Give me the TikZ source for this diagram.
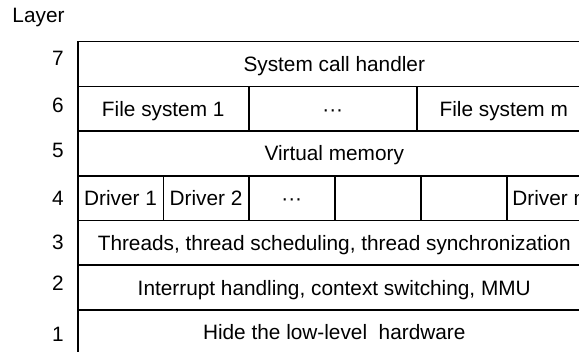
\documentclass[tikz,border=0pt]{standalone}
\usepackage{fontspec}
\setmainfont{Liberation Sans}
\tikzset{
	cell/.style={draw,line width=1.5pt,minimum height=44.7pt,inner sep=0pt,anchor=north west,
		text height=15pt,text depth=0pt,font=\fontsize{20.8}{24}\selectfont},
	lbl/.style={inner sep=0pt,text height=15pt,text depth=0pt,font=\fontsize{20.8}{24}\selectfont}
}
\begin{document}
\begin{tikzpicture}[x=1pt,y=-1pt]
			\clip (0,0) rectangle (579,352);
			\node[lbl] (layer) at (38.5,15.5) {Layer};
			\foreach \n/\y in {7/58.5,6/105,5/150,4/198.5,3/242,2/283.5,1/334.5}
				\node[lbl] (l\n) at (58,\y) {\n};
			\node[cell,minimum width=513pt] (sch) at (77,41) {System call handler};
			\node[cell,minimum width=171pt] (fs1) at (77,85.7) {File system 1};
			\node[cell,minimum width=168pt] (fsdots) at (248,85.7) {···};
			\node[cell,minimum width=174pt] (fsm) at (416,85.7) {File system m};
			\node[cell,minimum width=513pt] (vm) at (77,130.4) {Virtual memory};
			\node[cell,minimum width=85.5pt] (drv1) at (77,175.1) {Driver 1};
			\node[cell,minimum width=85.5pt] (drv2) at (162.5,175.1) {Driver 2};
			\node[cell,minimum width=86pt] (drvdots) at (248,175.1) {···};
			\node[cell,minimum width=86pt] (drva) at (334,175.1) {};
			\node[cell,minimum width=86pt] (drvb) at (420,175.1) {};
			\node[cell,minimum width=84pt] (drvn) at (506,175.1) {Driver n};
			\node[cell,minimum width=513pt] (thr) at (77,219.8) {Threads, thread scheduling, thread synchronization};
			\node[cell,minimum width=513pt] (irq) at (77,264.5) {Interrupt handling, context switching, MMU};
			\node[cell,minimum width=513pt] (hw) at (77,309.2) {Hide the low-level~~hardware};
		\end{tikzpicture}
\end{document}
